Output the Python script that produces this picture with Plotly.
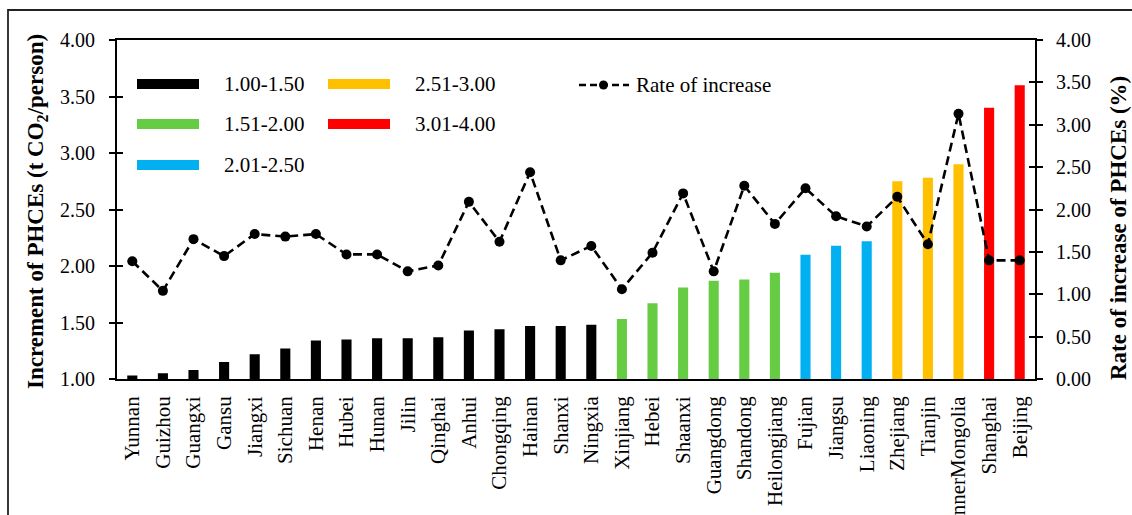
import plotly.graph_objects as go

# Provinces ordered by increment of per-capita household carbon emissions
provinces = ["Yunnan", "Guizhou", "Guangxi", "Gansu", "Jiangxi", "Sichuan", "Henan",
             "Hubei", "Hunan", "Jilin", "Qinghai", "Anhui", "Chongqing", "Hainan",
             "Shanxi", "Ningxia", "Xinjiang", "Hebei", "Shaanxi", "Guangdong",
             "Shandong", "Heilongjiang", "Fujian", "Jiangsu", "Liaoning", "Zhejiang",
             "Tianjin", "InnerMongolia", "Shanghai", "Beijing"]

# Increment of PHCEs (t CO2/person)
increment = [1.03, 1.05, 1.08, 1.15, 1.22, 1.27, 1.34, 1.35, 1.36, 1.36, 1.37, 1.43,
             1.44, 1.47, 1.47, 1.48, 1.53, 1.67, 1.81, 1.87, 1.88, 1.94, 2.10, 2.18,
             2.22, 2.75, 2.78, 2.90, 3.40, 3.60]

# Rate of increase of PHCEs (%)
rate = [1.39, 1.04, 1.65, 1.45, 1.71, 1.68, 1.71, 1.47, 1.47, 1.27, 1.34, 2.09,
        1.62, 2.44, 1.40, 1.57, 1.06, 1.49, 2.19, 1.27, 2.28, 1.83, 2.25, 1.92,
        1.80, 2.15, 1.59, 3.13, 1.40, 1.40]

# Increment classes: label, lower bound, upper bound, colour
class_labels = ["1.00-1.50", "1.51-2.00", "2.01-2.50", "2.51-3.00", "3.01-4.00"]
class_bounds = [(1.00, 1.505), (1.505, 2.005), (2.005, 2.505), (2.505, 3.005), (3.005, 4.01)]
class_colors = ["#000000", "#66CC44", "#00B0F0", "#FFC000", "#FF0000"]

left_ticks = [1.0, 1.5, 2.0, 2.5, 3.0, 3.5, 4.0]
right_ticks = [0.0, 0.5, 1.0, 1.5, 2.0, 2.5, 3.0, 3.5, 4.0]

FONT = "Liberation Serif, Times New Roman, serif"
W, H = 1132, 515
L, R, T, B = 117, 1035, 40, 379  # plot-area edges in pixels


def px(x):
    return (x - L) / (R - L)


def py(y):
    return (B - y) / (B - T)


fig = go.Figure()

for label, (lo, hi), color in zip(class_labels, class_bounds, class_colors):
    xs = [p for p, v in zip(provinces, increment) if lo <= v < hi]
    ys = [v for v in increment if lo <= v < hi]
    fig.add_trace(go.Bar(x=xs, y=ys, name=label, marker=dict(color=color, line=dict(width=0)),
                         width=0.33, yaxis="y", showlegend=False))

fig.add_trace(go.Scatter(x=provinces, y=rate, name="Rate of increase", yaxis="y2",
                         mode="lines+markers",
                         line=dict(color="black", width=2.6, dash="9px,5px"),
                         marker=dict(color="black", size=10),
                         showlegend=False))

axis_common = dict(showline=True, linecolor="black", linewidth=1.8, showgrid=False,
                   zeroline=False, tickcolor="black", tickwidth=1.6, automargin=False,
                   tickfont=dict(family=FONT, size=20, color="black"))

fig.update_layout(
    width=W, height=H,
    margin=dict(l=L, r=W - R, t=T, b=H - B, autoexpand=False),
    paper_bgcolor="white", plot_bgcolor="white",
    font=dict(family=FONT, color="black"),
    xaxis=dict(type="category", categoryorder="array", categoryarray=provinces,
               range=[-0.5, len(provinces) - 0.5], showline=True, linecolor="black",
               linewidth=1.8, mirror=True, showgrid=False, ticks="", tickangle=-90,
               automargin=False, ticklabelstandoff=7,
               tickfont=dict(family=FONT, size=21, color="black")),
    yaxis=dict(range=[1, 4], tickvals=left_ticks, tickformat=".2f", ticks="outside",
               ticklen=6, ticklabelstandoff=10, **axis_common),
    yaxis2=dict(range=[0, 4], tickvals=right_ticks, tickformat=".2f", ticks="outside",
                ticklen=6, ticklabelstandoff=9, overlaying="y", side="right", **axis_common),
    # inner halves of the crossing tick marks
    yaxis3=dict(range=[1, 4], tickvals=left_ticks, ticks="inside", ticklen=6,
                showticklabels=False, overlaying="y", side="left", showline=False,
                showgrid=False, zeroline=False, tickcolor="black", tickwidth=1.6,
                automargin=False),
    yaxis4=dict(range=[0, 4], tickvals=right_ticks, ticks="inside", ticklen=6,
                showticklabels=False, overlaying="y", side="right", showline=False,
                showgrid=False, zeroline=False, tickcolor="black", tickwidth=1.6,
                automargin=False),
)

# placeholder traces so the tick-only axes are drawn
fig.add_trace(go.Scatter(x=[provinces[0]], y=[None], yaxis="y3", mode="markers",
                         showlegend=False, hoverinfo="skip"))
fig.add_trace(go.Scatter(x=[provinces[0]], y=[None], yaxis="y4", mode="markers",
                         showlegend=False, hoverinfo="skip"))

shapes = []
annotations = []

# outer frame
shapes.append(dict(type="rect", xref="paper", yref="paper",
                   x0=px(8), x1=px(1160), y0=py(10), y1=py(560),
                   line=dict(color="#222222", width=1.8), fillcolor="rgba(0,0,0,0)"))

# legend: three columns laid out by hand
legend_slots = [(137, 84), (137, 124), (137, 165), (328, 84), (328, 124)]
for (sx, sy), label, color in zip(legend_slots, class_labels, class_colors):
    shapes.append(dict(type="rect", xref="paper", yref="paper",
                       x0=px(sx), x1=px(sx + 62), y0=py(sy - 5), y1=py(sy + 5),
                       line=dict(width=0), fillcolor=color))
    annotations.append(dict(text=label, xref="paper", yref="paper", x=px(sx + 85), y=py(sy),
                            xanchor="left", yanchor="middle", showarrow=False,
                            font=dict(family=FONT, size=21, color="black")))

shapes.append(dict(type="line", xref="paper", yref="paper",
                   x0=px(579), x1=px(629), y0=py(85), y1=py(85),
                   line=dict(color="black", width=2.6, dash="7px,4px")))
shapes.append(dict(type="circle", xref="paper", yref="paper",
                   x0=px(599), x1=px(608), y0=py(80.5), y1=py(89.5),
                   line=dict(width=0), fillcolor="black"))
annotations.append(dict(text="Rate of increase", xref="paper", yref="paper", x=px(634), y=py(85),
                        xanchor="left", yanchor="middle", showarrow=False,
                        font=dict(family=FONT, size=21, color="black")))

# axis titles
annotations.append(dict(text="<b>Increment of PHCEs (t CO<sub>2</sub>/person)</b>",
                        xref="paper", yref="paper", x=px(37), y=py(212), textangle=-90,
                        xanchor="center", yanchor="middle", showarrow=False,
                        font=dict(family=FONT, size=23, color="black")))
annotations.append(dict(text="<b>Rate of increase of PHCEs (%)</b>",
                        xref="paper", yref="paper", x=px(1118), y=py(228), textangle=-90,
                        xanchor="center", yanchor="middle", showarrow=False,
                        font=dict(family=FONT, size=23, color="black")))

fig.update_layout(shapes=shapes, annotations=annotations)

fig.write_html("out.html")
